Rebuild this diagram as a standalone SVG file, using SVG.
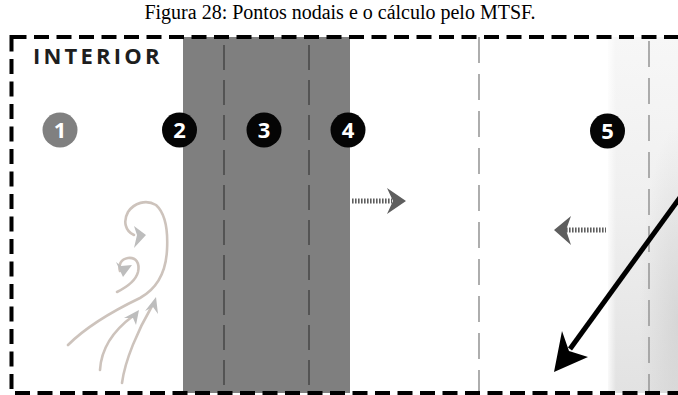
<svg xmlns="http://www.w3.org/2000/svg" width="678" height="395" viewBox="0 0 678 395">
  <style>
    .title { font-family: "Liberation Serif", "Times New Roman", serif; font-size: 20px; fill: #000; }
    .label { font-family: "Open Sans", "Liberation Sans", sans-serif; font-weight: 700; font-size: 22px; letter-spacing: 3.2px; fill: #1e1e1e; }
    .num { font-family: "Open Sans", "Liberation Sans", sans-serif; font-weight: 700; font-size: 22px; fill: #fff; text-anchor: middle; }
    .dot-dark { fill: #050505; }
    .dot-grey { fill: #808080; }
    .axis-dark { stroke: #4a4a4a; stroke-width: 1.6; stroke-dasharray: 25 10; fill: none; }
    .axis-light { stroke: #9a9a9a; stroke-width: 1.6; stroke-dasharray: 26 11; fill: none; }
    .flow { stroke: #5e5e5e; stroke-width: 5; stroke-dasharray: 1.6 1.4; fill: none; }
    .flow-head { fill: #5e5e5e; }
    .swirl { stroke: #cdc3bc; stroke-width: 2.6; fill: none; stroke-linecap: round; stroke-linejoin: round; }
    .swirl-head { fill: #bdbdbd; }
  </style>
  <defs>
    <linearGradient id="panelFill" x1="0" y1="0" x2="0" y2="1">
      <stop offset="0" stop-color="#f7f7f7"/>
      <stop offset="0.5" stop-color="#efefef"/>
      <stop offset="1" stop-color="#e2e2e2"/>
    </linearGradient>
    <linearGradient id="panelEdge" x1="0" y1="0" x2="1" y2="0">
      <stop offset="0" stop-color="#ffffff" stop-opacity="0.8"/>
      <stop offset="1" stop-color="#ffffff" stop-opacity="0"/>
    </linearGradient>
    <radialGradient id="panelShade" cx="1" cy="0.8" r="0.55">
      <stop offset="0" stop-color="#c8c8c8" stop-opacity="0.55"/>
      <stop offset="1" stop-color="#c8c8c8" stop-opacity="0"/>
    </radialGradient>
  </defs>

  <rect width="678" height="395" fill="#ffffff"/>

  <text class="title" x="340" y="19" text-anchor="middle">Figura 28: Pontos nodais e o cálculo pelo MTSF.</text>

  <!-- wall layers -->
  <g id="wall">
    <rect x="183" y="37" width="167" height="356" fill="#7f7f7f"/>
  </g>
  <g id="exterior-panel">
    <rect x="608" y="37" width="70" height="356" fill="url(#panelFill)"/>
    <rect x="608" y="37" width="70" height="356" fill="url(#panelShade)"/>
    <rect x="608" y="37" width="8" height="356" fill="url(#panelEdge)"/>
  </g>

  <!-- section axes -->
  <g id="axes">
    <line class="axis-dark" x1="224" y1="45" x2="224" y2="392"/>
    <line class="axis-dark" x1="309" y1="45" x2="309" y2="392"/>
    <line class="axis-light" x1="479" y1="37" x2="479" y2="392"/>
    <line class="axis-light" x1="649" y1="41" x2="649" y2="392"/>
  </g>

  <!-- frame -->
  <rect x="11.5" y="37" width="720" height="356" fill="none" stroke="#000" stroke-width="4" stroke-dasharray="15 7.5"/>

  <text class="label" x="33" y="64">INTERIOR</text>

  <!-- nodal points -->
  <g id="node-1">
    <circle class="dot-grey" cx="60" cy="130" r="17.5"/>
    <text class="num" x="60" y="138">1</text>
  </g>
  <g id="node-2">
    <circle class="dot-dark" cx="179.5" cy="130" r="17.5"/>
    <text class="num" x="179.5" y="138">2</text>
  </g>
  <g id="node-3">
    <circle class="dot-dark" cx="264" cy="130" r="17.5"/>
    <text class="num" x="264" y="138">3</text>
  </g>
  <g id="node-4">
    <circle class="dot-dark" cx="348" cy="130" r="17.5"/>
    <text class="num" x="348" y="138">4</text>
  </g>
  <g id="node-5">
    <circle class="dot-dark" cx="607.5" cy="131" r="17.5"/>
    <text class="num" x="607.5" y="139">5</text>
  </g>

  <!-- air movement sketch -->
  <g id="air-swirl">
    <path class="swirl" d="M68,345 C88,325 115,310 140,298 C158,288 166,270 167,250 C168,232 166,214 156,205 C146,199 134,203 128,212 C123,221 125,231 134,235"/>
    <path class="swirl-head" d="M146,235 L134,226 L137,235 L134,248 Z"/>
    <path class="swirl" d="M117,292 C127,287 136,280 138,272 C140,263 136,257 128,258 C121,259 118,265 120,271"/>
    <path class="swirl-head" d="M123,277 L116,262 L121,266 L132,265 Z"/>
    <path class="swirl" d="M100,370 C101,352 110,333 133,316"/>
    <path class="swirl-head" d="M139,310 L136,325 L133,318 L124,318 Z"/>
    <path class="swirl" d="M122,383 C125,360 138,330 152,306"/>
    <path class="swirl-head" d="M156,297 L158,314 L153,307 L145,311 Z"/>
  </g>

  <!-- heat flow connectors -->
  <g id="connectors">
    <line class="flow" x1="352" y1="201" x2="392" y2="201"/>
    <path class="flow-head" d="M406,201 L387,188 L393,201 L387,214 Z"/>
    <line class="flow" x1="566" y1="230" x2="606" y2="230"/>
    <path class="flow-head" d="M554,230 L571,216 L566,230 L571,245 Z"/>
    <line x1="681" y1="196" x2="570" y2="349" stroke="#000" stroke-width="5"/>
    <path d="M554,372 L562,331 L569,351 L588,357 Z" fill="#000"/>
  </g>
</svg>
